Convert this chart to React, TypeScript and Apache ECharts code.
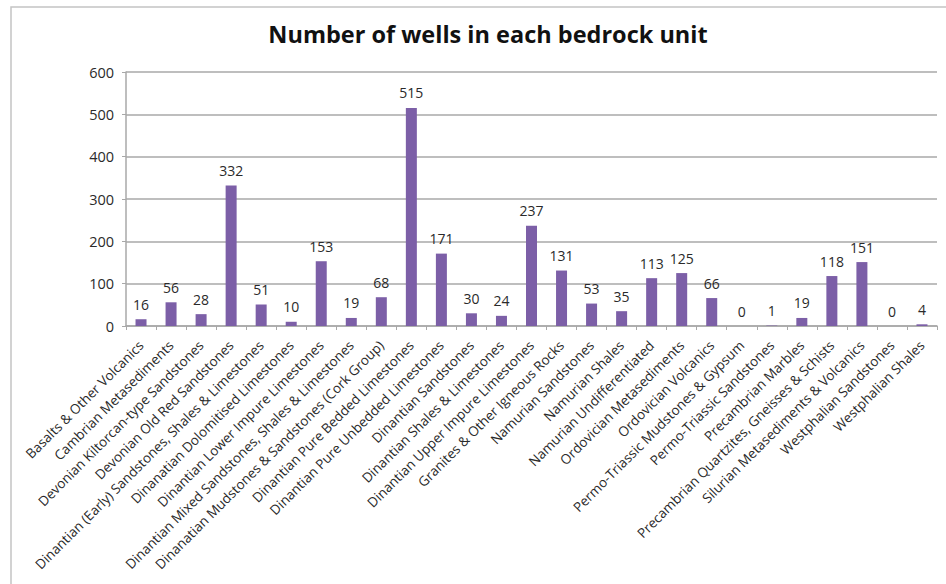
import React, { useEffect, useRef } from "react";
import * as echarts from "echarts";

const categories: string[] = [
  "Basalts & Other Volcanics",
  "Cambrian Metasediments",
  "Devonian Kiltorcan-type Sandstones",
  "Devonian Old Red Sandstones",
  "Dinantian (Early) Sandstones, Shales & Limestones",
  "Dinanatian Dolomitised Limestones",
  "Dinantian Lower Impure Limestones",
  "Dinantian Mixed Sandstones, Shales & Limestones",
  "Dinanatian Mudstones & Sandstones (Cork Group)",
  "Dinantian Pure Bedded Limestones",
  "Dinantian Pure Unbedded Limestones",
  "Dinantian Sandstones",
  "Dinantian Shales & Limestones",
  "Dinantian Upper Impure Limestones",
  "Granites & Other Igneous Rocks",
  "Namurian Sandstones",
  "Namurian Shales",
  "Namurian Undifferentiated",
  "Ordovician Metasediments",
  "Ordovician Volcanics",
  "Permo-Triassic Mudstones & Gypsum",
  "Permo-Triassic Sandstones",
  "Precambrian Marbles",
  "Precambrian Quartzites, Gneisses & Schists",
  "Silurian Metasediments & Volcanics",
  "Westphalian Sandstones",
  "Westphalian Shales",
];

const wellCounts: number[] = [
  16, 56, 28, 332, 51, 10, 153, 19, 68, 515, 171, 30, 24, 237, 131, 53, 35,
  113, 125, 66, 0, 1, 19, 118, 151, 0, 4,
];

const yTicks = { min: 0, max: 600, interval: 100 };

export default function App() {
  const ref = useRef<HTMLDivElement>(null);

  useEffect(() => {
    document.body.style.margin = "0";
    if (!ref.current) return;
    const chart = echarts.init(ref.current, null, { renderer: "svg" });
    const font = "'Open Sans', 'Noto Sans', sans-serif";
    chart.setOption({
      animation: false,
      backgroundColor: "#ffffff",
      textStyle: { fontFamily: font },
      title: {
        text: "Number of wells in each bedrock unit",
        left: 483,
        top: 17,
        textAlign: "center",
        textStyle: {
          fontFamily: font,
          fontSize: 23.5,
          fontWeight: "bold",
          color: "#111111",
        },
      },
      graphic: [
        {
          type: "rect",
          shape: { x: 11, y: 7, width: 1000, height: 700 },
          style: { fill: "none", stroke: "#c4c4c4", lineWidth: 1.5 },
          silent: true,
          z: -1,
        },
      ],
      grid: { left: 126, right: 9, top: 72, bottom: 258, containLabel: false },
      xAxis: {
        type: "category",
        data: categories,
        boundaryGap: true,
        axisLine: { show: true, lineStyle: { color: "#a8a8a8", width: 1.5 } },
        axisTick: {
          show: true,
          alignWithLabel: false,
          length: 4,
          lineStyle: { color: "#a8a8a8" },
        },
        axisLabel: {
          interval: 0,
          rotate: 45,
          margin: 17,
          fontSize: 13.5,
          color: "#2a2a2a",
          fontFamily: font,
        },
      },
      yAxis: {
        type: "value",
        min: yTicks.min,
        max: yTicks.max,
        interval: yTicks.interval,
        axisLine: { show: true, lineStyle: { color: "#a8a8a8", width: 1.5 } },
        axisTick: { show: true, length: 4, lineStyle: { color: "#a8a8a8" } },
        splitLine: { show: true, lineStyle: { color: "#a8a8a8", width: 1.5 } },
        axisLabel: { fontSize: 14.5, color: "#2a2a2a", margin: 12, fontFamily: font },
      },
      series: [
        {
          type: "bar",
          data: wellCounts,
          barWidth: 11,
          itemStyle: { color: "#7c5fa7" },
          label: {
            show: true,
            position: "top",
            distance: 8,
            fontSize: 14,
            color: "#2a2a2a",
            fontFamily: font,
          },
        },
      ],
    });
    return () => chart.dispose();
  }, []);

  return <div ref={ref} style={{ width: 946, height: 584 }} />;
}
